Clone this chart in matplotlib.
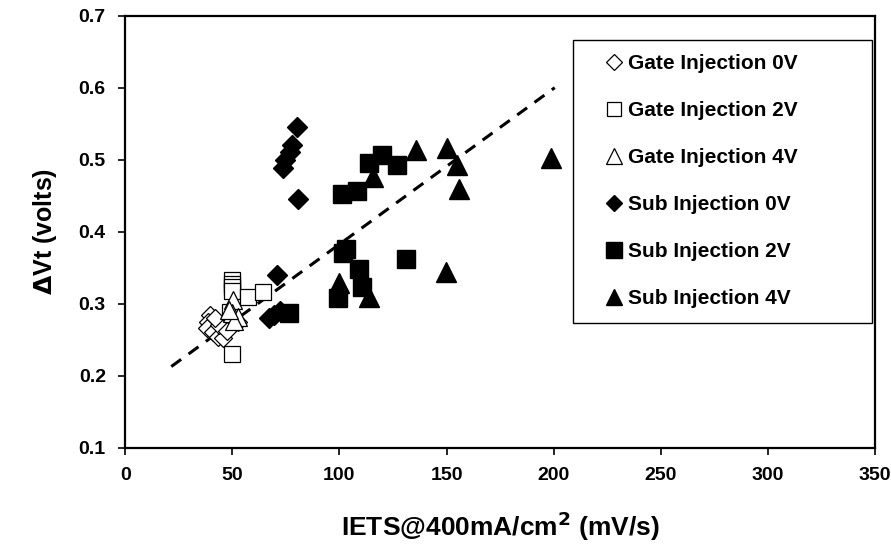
import matplotlib.pyplot as plt

plt.rcParams["font.family"] = ["Liberation Sans", "DejaVu Sans"]
plt.rcParams["font.weight"] = "bold"

# Gate injection (open markers)
gate0_x = [39.6, 38.8, 38.0, 41.1, 43.4, 45.8, 44.0, 47.5, 52.8, 42.0]
gate0_y = [0.285, 0.275, 0.266, 0.261, 0.254, 0.252, 0.270, 0.262, 0.275, 0.280]
gate2_x = [49.7, 49.7, 49.7, 49.7, 57.5, 64.4, 49.0, 49.7]
gate2_y = [0.333, 0.328, 0.323, 0.318, 0.310, 0.317, 0.289, 0.231]
gate4_x = [50.4, 49.7, 52.6, 51.0, 48.5]
gate4_y = [0.305, 0.287, 0.282, 0.276, 0.292]

# Substrate injection (filled markers)
sub0_x = [80.0, 77.7, 76.9, 74.6, 73.8, 80.8, 70.7, 72.2, 67.0, 69.5]
sub0_y = [0.546, 0.520, 0.511, 0.500, 0.488, 0.446, 0.340, 0.290, 0.280, 0.285]
sub2_x = [113.8, 120.0, 127.0, 101.3, 108.3, 102.9, 101.8, 109.1, 110.6, 99.4, 131.0, 76.5]
sub2_y = [0.496, 0.506, 0.492, 0.452, 0.457, 0.376, 0.370, 0.349, 0.324, 0.308, 0.362, 0.287]
sub4_x = [135.6, 150.0, 155.0, 156.0, 115.8, 149.6, 99.9, 113.9, 198.7]
sub4_y = [0.513, 0.516, 0.493, 0.459, 0.476, 0.344, 0.329, 0.310, 0.502]

# dashed trend line end points
trend_x = [21.5, 200.5]
trend_y = [0.213, 0.600]

labels = [
    "Gate Injection 0V",
    "Gate Injection 2V",
    "Gate Injection 4V",
    "Sub Injection 0V",
    "Sub Injection 2V",
    "Sub Injection 4V",
]

fig = plt.figure(figsize=(8.91, 5.44), dpi=100)
ax = fig.add_axes([125.2 / 891, 1 - 448 / 544, 749.8 / 891, 432.4 / 544])

ax.plot(trend_x, trend_y, "--", color="black", lw=2.2, dashes=(4, 3), zorder=1)

open_kw = dict(ls="none", mfc="white", mec="black", mew=0.9)
fill_kw = dict(ls="none", color="black", mec="black")
ax.plot(gate0_x, gate0_y, "D", ms=9, label=labels[0], **open_kw)
ax.plot(gate2_x, gate2_y, "s", ms=12, label=labels[1], **open_kw)
ax.plot(gate4_x, gate4_y, "^", ms=13, label=labels[2], **open_kw)
ax.plot(sub0_x, sub0_y, "D", ms=10, label=labels[3], **fill_kw)
ax.plot(sub2_x, sub2_y, "s", ms=13, label=labels[4], **fill_kw)
ax.plot(sub4_x, sub4_y, "^", ms=14, label=labels[5], **fill_kw)

ax.set_xlim(0, 350)
ax.set_ylim(0.1, 0.7)
ax.set_xticks(range(0, 351, 50))
ax.set_yticks([0.1, 0.2, 0.3, 0.4, 0.5, 0.6, 0.7])
ax.set_yticklabels(["0.1", "0.2", "0.3", "0.4", "0.5", "0.6", "0.7"])
ax.tick_params(direction="out", length=5, width=1.2, labelsize=14, pad=9)
for s in ax.spines.values():
    s.set_linewidth(1.6)

ax.set_xlabel("IETS@400mA/cm$^\\mathbf{2}$ (mV/s)", fontsize=19, fontweight="bold", labelpad=18)
ax.set_ylabel("$\\Delta$Vt (volts)", fontsize=18, fontweight="bold", labelpad=14)

leg = ax.legend(
    loc="upper left",
    bbox_to_anchor=(0.597, 0.28, 0.399, 0.664),
    mode="expand",
    fontsize=15,
    frameon=True,
    fancybox=False,
    edgecolor="black",
    framealpha=1,
    numpoints=1,
    markerscale=0.85,
    handlelength=2.6,
    handletextpad=-0.65,
    labelspacing=1.34,
    borderpad=0.7,
    borderaxespad=0,
)
leg.get_frame().set_linewidth(1.0)

fig.savefig("out.png", dpi=100, facecolor="white")
